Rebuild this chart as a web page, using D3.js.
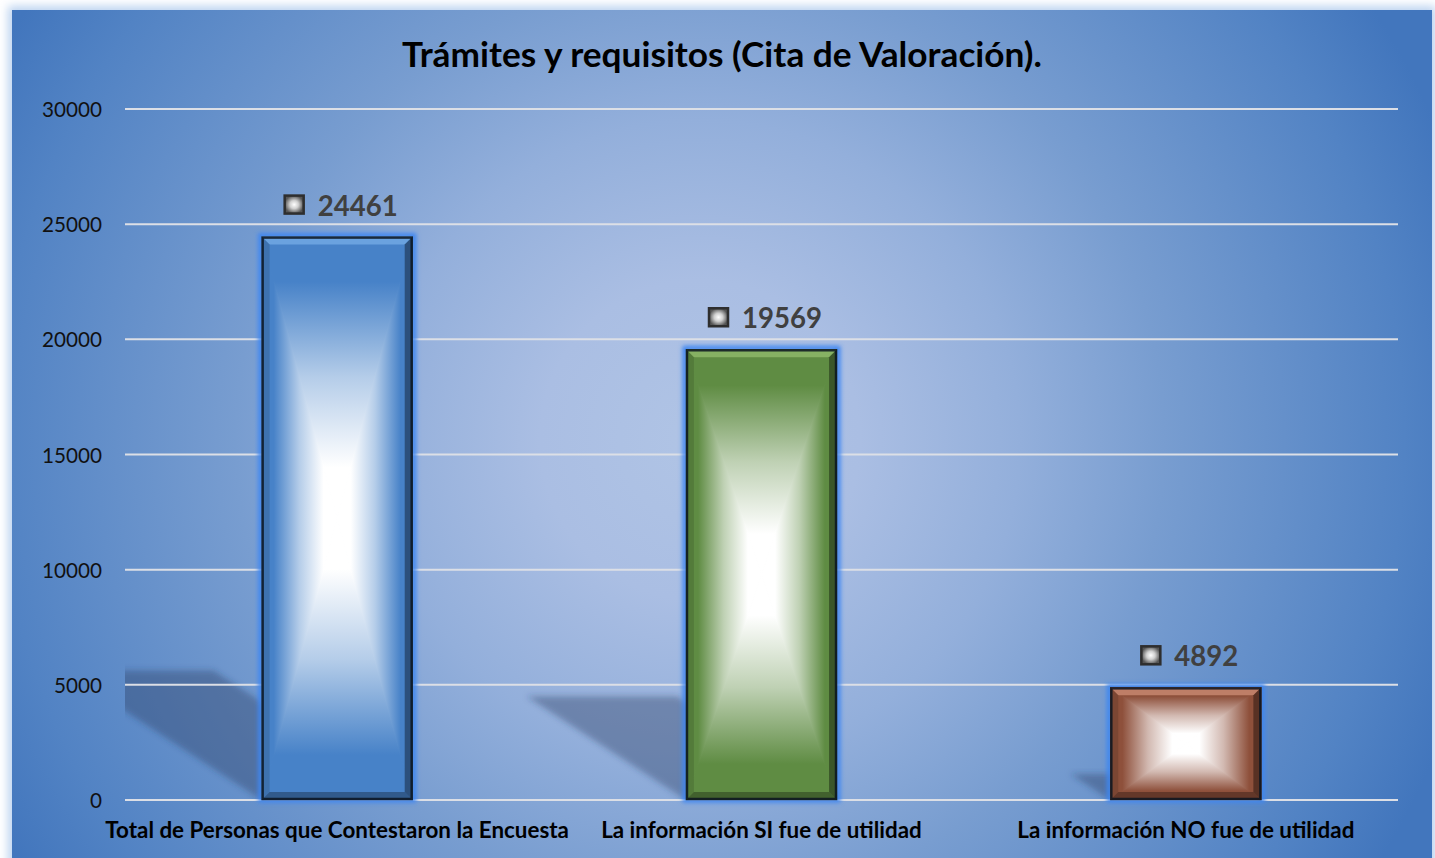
<!DOCTYPE html>
<html><head><meta charset="utf-8">
<script src="https://cdn.jsdelivr.net/npm/d3@7"></script>
<style>body{margin:0;background:#fff;overflow:hidden}svg{display:block}</style>
</head><body>
<svg id="c" width="1435" height="858"></svg>
<script>
const title = "Trámites y requisitos (Cita de Valoración).";
const categories = ["Total de Personas que Contestaron la Encuesta", "La información SI fue de utilidad", "La información NO fue de utilidad"];
const values = [24461, 19569, 4892];
const barColors = ["#4782c8", "#5f8c43", "#8e503b"];
const barHighlights = ["#86bdf2", "#a6cf7e", "#e6a48c"];
const yTicks = [0, 5000, 10000, 15000, 20000, 25000, 30000];

const svg = d3.select("#c");
const defs = svg.append("defs");
const FONT = "Lato, 'Open Sans', sans-serif";

const plotL = 125, plotR = 1398, baseY = 800, topY = 109;
const y = d3.scaleLinear().domain([0, 30000]).range([baseY, topY]);
const x = d3.scaleBand().domain(categories).range([plotL, plotR]).paddingInner(0.644).paddingOuter(0.322);

// background
const bg = defs.append("radialGradient").attr("id", "bg").attr("gradientUnits", "userSpaceOnUse")
  .attr("cx", 700).attr("cy", 440).attr("r", 800);
[[0, "#b0c4e5"], [0.2, "#aabee3"], [0.4, "#93afdb"], [0.58, "#789dd0"], [0.88, "#5283c4"], [1, "#4276bd"]]
  .forEach(([o, c]) => bg.append("stop").attr("offset", o).attr("stop-color", c));
const glowF = defs.append("filter").attr("id", "panelGlow").attr("x", "-5%").attr("y", "-5%").attr("width", "110%").attr("height", "110%");
glowF.append("feGaussianBlur").attr("stdDeviation", 5);
svg.append("rect").attr("x", 8).attr("y", 6).attr("width", 1428).attr("height", 870)
  .attr("fill", "#bcd3f0").attr("filter", "url(#panelGlow)");
svg.append("rect").attr("x", 12).attr("y", 10).attr("width", 1420).attr("height", 860).attr("fill", "url(#bg)");

function fit(sel, target) {
  sel.attr("font-size", 100);
  const w = sel.node().getComputedTextLength();
  const s = 100 * target / w;
  sel.attr("font-size", s);
  return s;
}
// title
const t = svg.append("text").text(title).attr("x", 722).attr("y", 67).attr("text-anchor", "middle")
  .attr("font-family", FONT).attr("font-weight", 700).attr("fill", "#000");
fit(t, 640);

// shadows (behind gridlines)
const clip = defs.append("clipPath").attr("id", "plotClip");
clip.append("rect").attr("x", plotL).attr("y", 0).attr("width", plotR - plotL).attr("height", baseY);
const shF = defs.append("filter").attr("id", "shBlur").attr("x", "-20%").attr("y", "-20%").attr("width", "140%").attr("height", "140%");
shF.append("feGaussianBlur").attr("stdDeviation", 3);
const shG = svg.append("g").attr("clip-path", "url(#plotClip)");
shG.selectAll("polygon").data(values).join("polygon")
  .attr("points", (v, i) => {
    const xl = x(categories[i]), xr = xl + x.bandwidth();
    const hs = (baseY - y(v)) * 0.23, d = hs / 0.65;
    return [[xl, baseY], [xr, baseY], [xr - d, baseY - hs], [xl - d, baseY - hs]].map(p => p.join(",")).join(" ");
  })
  .attr("fill", "rgba(35,55,95,0.38)").attr("filter", "url(#shBlur)");

// gridlines
svg.append("g").selectAll("line").data(yTicks).join("line")
  .attr("x1", plotL).attr("x2", plotR).attr("y1", d => y(d)).attr("y2", d => y(d))
  .attr("stroke", "#dcdfe6").attr("stroke-width", 2);

// y axis labels
const yl = svg.append("g").selectAll("text").data(yTicks).join("text")
  .text(d => d).attr("x", 102).attr("y", d => y(d) + 8).attr("text-anchor", "end")
  .attr("font-family", FONT).attr("fill", "#111");
const ys = fit(d3.select(yl.nodes()[6]), 60);
yl.attr("font-size", ys);

// bars
const glow = defs.append("filter").attr("id", "barGlow").attr("x", "-20%").attr("y", "-20%").attr("width", "140%").attr("height", "140%");
glow.append("feGaussianBlur").attr("stdDeviation", 2);

function grad(id, color, x1, y1, x2, y2) {
  const g = defs.append("linearGradient").attr("id", id)
    .attr("x1", x1).attr("y1", y1).attr("x2", x2).attr("y2", y2);
  const mid = d3.interpolateRgb(color, "#ffffff")(0.6);
  [[0, color], [0.16, color], [0.5, mid], [0.82, "#ffffff"], [1, "#ffffff"]]
    .forEach(([o, c]) => g.append("stop").attr("offset", o).attr("stop-color", c));
}

const barsG = svg.append("g");
const P = pts => pts.map(p => p.join(",")).join(" ");
values.forEach((v, i) => {
  const c = barColors[i];
  grad("gT" + i, c, 0, 0, 0, 1);
  grad("gB" + i, c, 0, 1, 0, 0);
  grad("gL" + i, c, 0, 0, 1, 0);
  grad("gR" + i, c, 1, 0, 0, 0);
  const x0 = x(categories[i]), x1 = x0 + x.bandwidth(), y0 = y(v), y1 = y(0);
  const cx = (x0 + x1) / 2, cy = (y0 + y1) / 2;
  const g = barsG.append("g");
  g.append("rect").attr("x", x0 - 1).attr("y", y0 - 1).attr("width", x1 - x0 + 2).attr("height", y1 - y0 + 1)
    .attr("fill", "none").attr("stroke", "#3d86f2").attr("stroke-width", 5).attr("filter", "url(#barGlow)");
  const cp = "bc" + i;
  defs.append("clipPath").attr("id", cp).append("rect").attr("x", x0).attr("y", y0).attr("width", x1 - x0).attr("height", y1 - y0);
  const inner = g.append("g").attr("clip-path", `url(#${cp})`);
  inner.append("rect").attr("x", x0).attr("y", y0).attr("width", x1 - x0).attr("height", y1 - y0)
    .attr("fill", d3.interpolateRgb(c, "#ffffff")(0.5));
  [["gT", [[x0, y0], [x1, y0], [cx, cy]]], ["gB", [[x0, y1], [x1, y1], [cx, cy]]],
   ["gL", [[x0, y0], [x0, y1], [cx, cy]]], ["gR", [[x1, y0], [x1, y1], [cx, cy]]]].forEach(([id, pts]) => {
    inner.append("polygon").attr("points", P(pts)).attr("fill", `url(#${id}${i})`)
      .attr("stroke", `url(#${id}${i})`).attr("stroke-width", 1.2).attr("stroke-linejoin", "round");
  });
  const b = 8;
  g.append("polygon").attr("points", P([[x0, y0], [x1, y0], [x1 - b, y0 + b], [x0 + b, y0 + b]]))
    .attr("fill", barHighlights[i]).attr("opacity", 0.55);
  g.append("polygon").attr("points", P([[x0, y0], [x0 + b, y0 + b], [x0 + b, y1 - b], [x0, y1]]))
    .attr("fill", "#000").attr("opacity", 0.12);
  g.append("polygon").attr("points", P([[x1, y0], [x1 - b, y0 + b], [x1 - b, y1 - b], [x1, y1]]))
    .attr("fill", "#000").attr("opacity", 0.38);
  g.append("polygon").attr("points", P([[x0, y1], [x0 + b, y1 - b], [x1 - b, y1 - b], [x1, y1]]))
    .attr("fill", "#000").attr("opacity", 0.3);
  g.append("rect").attr("x", x0 + 1).attr("y", y0 + 1).attr("width", x1 - x0 - 2).attr("height", y1 - y0 - 2)
    .attr("fill", "none").attr("stroke", "#0b1420").attr("stroke-opacity", 0.85).attr("stroke-width", 2.5);
});

// value labels
const mk = defs.append("radialGradient").attr("id", "mk");
[[0, "#ffffff"], [0.45, "#d0d0d0"], [1, "#555555"]].forEach(([o, c]) => mk.append("stop").attr("offset", o).attr("stop-color", c));
const labels = values.map(v => svg.append("text").text(v).attr("font-family", FONT).attr("font-weight", 700).attr("fill", "#404040"));
const vs = fit(labels[0], 80);
labels.forEach((txt, i) => {
  txt.attr("font-size", vs);
  const w = txt.node().getComputedTextLength();
  const total = 19 + 14 + w;
  const cx = x(categories[i]) + x.bandwidth() / 2 + 4;
  const gl = cx - total / 2;
  const by = y(values[i]) - 21;
  txt.attr("x", gl + 33).attr("y", by);
  svg.append("rect").attr("x", gl).attr("y", by - 20).attr("width", 19).attr("height", 18)
    .attr("fill", "url(#mk)").attr("stroke", "#2e2e2e").attr("stroke-width", 2.5);
});

// x labels
const xl = svg.append("g").selectAll("text").data(categories).join("text")
  .text(d => d).attr("x", d => x(d) + x.bandwidth() / 2).attr("y", 838).attr("text-anchor", "middle")
  .attr("font-family", FONT).attr("font-weight", 700).attr("fill", "#000");
const xs = fit(d3.select(xl.nodes()[0]), 464);
xl.attr("font-size", xs);
</script>
</body></html>
